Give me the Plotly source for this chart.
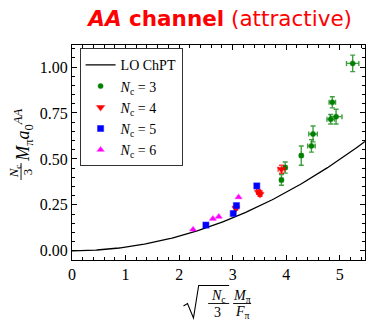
import numpy as np
import plotly.graph_objects as go

# --- data -------------------------------------------------------------
nc3_x = [3.91, 3.98, 4.28, 4.47, 4.50, 4.83, 4.93, 4.86, 5.24]
nc3_y = [0.386, 0.453, 0.518, 0.571, 0.636, 0.716, 0.730, 0.808, 1.02]
nc3_xerr = [0.03, 0.03, 0.03, 0.07, 0.08, 0.07, 0.11, 0.06, 0.115]
nc3_yerr = [0.029, 0.030, 0.052, 0.034, 0.043, 0.026, 0.040, 0.030, 0.045]

nc4_x = [3.06, 3.48, 3.51, 3.91]
nc4_y = [0.232, 0.320, 0.308, 0.444]
nc4_xerr = [0.02, 0.03, 0.03, 0.06]
nc4_yerr = [0.010, 0.012, 0.012, 0.022]

nc5_x = [2.50, 3.01, 3.07, 3.45]
nc5_y = [0.140, 0.203, 0.246, 0.353]

nc6_x = [2.26, 2.63, 2.74, 3.11]
nc6_y = [0.116, 0.174, 0.186, 0.292]

x_ticks = [0, 1, 2, 3, 4, 5]
y_ticks = [0.00, 0.25, 0.50, 0.75, 1.00]
y_ticklabels = ["0.00", "0.25", "0.50", "0.75", "1.00"]

x_range = [0, 5.47]
y_range = [-0.05, 1.12]

# leading-order ChPT: N_c/3 M a = (N_c/3 M^2/F^2) / (16 pi)
lo_coeff = 1.0 / (16.0 * np.pi)
lo_x = np.linspace(x_range[0], x_range[1], 200)
lo_y = lo_coeff * lo_x ** 2

# --- layout geometry (pixels) -------------------------------------------
W, H = 367, 320
L, R, T, B = 71.7, 365.0, 45.0, 260.0
PW, PH = R - L, B - T


def px(x):
    return (x - L) / PW


def py(y):
    return (B - y) / PH


SERIF = "Liberation Serif"

fig = go.Figure()

fig.add_trace(go.Scatter(
    x=lo_x, y=lo_y, mode="lines", name="LO ChPT",
    line=dict(color="black", width=1.3),
))

fig.add_trace(go.Scatter(
    x=nc3_x, y=nc3_y, mode="markers", name="<i>N</i><sub>c</sub> = 3",
    marker=dict(symbol="circle", size=5, color="#008000",
                line=dict(color="rgba(0,128,0,0.45)", width=1.2)),
    error_x=dict(type="data", array=nc3_xerr, color="rgba(0,128,0,0.75)",
                 thickness=1.4, width=2.5),
    error_y=dict(type="data", array=nc3_yerr, color="rgba(0,128,0,0.75)",
                 thickness=1.4, width=2.5),
))

fig.add_trace(go.Scatter(
    x=nc4_x, y=nc4_y, mode="markers", name="<i>N</i><sub>c</sub> = 4",
    marker=dict(symbol="triangle-down", size=7, color="#ff0000",
                line=dict(color="rgba(255,0,0,0.45)", width=1.2)),
    error_x=dict(type="data", array=nc4_xerr, color="rgba(255,0,0,0.75)",
                 thickness=1.4, width=2.5),
    error_y=dict(type="data", array=nc4_yerr, color="rgba(255,0,0,0.75)",
                 thickness=1.4, width=2.5),
))

fig.add_trace(go.Scatter(
    x=nc5_x, y=nc5_y, mode="markers", name="<i>N</i><sub>c</sub> = 5",
    marker=dict(symbol="square", size=6, color="#0000ff",
                line=dict(color="rgba(0,0,255,0.45)", width=1.2)),
))

fig.add_trace(go.Scatter(
    x=nc6_x, y=nc6_y, mode="markers", name="<i>N</i><sub>c</sub> = 6",
    marker=dict(symbol="triangle-up", size=6, color="#ff00ff",
                line=dict(color="rgba(255,0,255,0.45)", width=1.2)),
))

axis_common = dict(
    showline=True, linecolor="black", linewidth=1.2, mirror="allticks",
    ticks="inside", ticklen=5, tickwidth=1, tickcolor="black",
    showgrid=False, zeroline=False,
    tickfont=dict(family=SERIF, size=16, color="black"),
)

fig.update_xaxes(
    range=x_range, tickvals=x_ticks, ticktext=[str(v) for v in x_ticks],
    minor=dict(ticks="inside", ticklen=2.5, dtick=0.2, tickcolor="black", tickwidth=0.8),
    **axis_common,
)
fig.update_yaxes(
    range=y_range, tickvals=y_ticks, ticktext=y_ticklabels,
    minor=dict(ticks="inside", ticklen=2.5, dtick=0.05, tickcolor="black", tickwidth=0.8),
    **axis_common,
)

annotations = []
shapes = []

# y-axis label: (N_c / 3) M_pi a_0^AA, rotated
annotations.append(dict(text="<i>N</i><sub>c</sub>", x=px(14.5), y=py(171.5),
                        textangle=-90, font=dict(family=SERIF, size=13, color="black")))
annotations.append(dict(text="3", x=px(27.5), y=py(171.5),
                        textangle=-90, font=dict(family=SERIF, size=13, color="black")))
shapes.append(dict(type="line", xref="paper", yref="paper",
                   x0=px(20.7), x1=px(20.7), y0=py(163), y1=py(180),
                   line=dict(color="black", width=0.9)))
annotations.append(dict(text="<i>M</i><sub>π</sub><i>a</i><sub>0</sub><sup><i>AA</i></sup>",
                        x=px(23), y=py(135.5), textangle=-90,
                        font=dict(family=SERIF, size=18, color="black")))

# x-axis label: sqrt(N_c / 3) M_pi / F_pi
annotations.append(dict(text="<i>N</i><sub>c</sub>", x=px(218), y=py(296),
                        font=dict(family=SERIF, size=14, color="black")))
annotations.append(dict(text="3", x=px(217), y=py(312),
                        font=dict(family=SERIF, size=14, color="black")))
shapes.append(dict(type="line", xref="paper", yref="paper",
                   x0=px(208), x1=px(229), y0=py(303.5), y1=py(303.5),
                   line=dict(color="black", width=0.9)))
annotations.append(dict(text="<i>M</i><sub>π</sub>", x=px(242), y=py(296),
                        font=dict(family=SERIF, size=14, color="black")))
annotations.append(dict(text="<i>F</i><sub>π</sub>", x=px(242), y=py(312),
                        font=dict(family=SERIF, size=14, color="black")))
shapes.append(dict(type="line", xref="paper", yref="paper",
                   x0=px(233), x1=px(251), y0=py(303.5), y1=py(303.5),
                   line=dict(color="black", width=0.9)))
# radical sign
rad = [(183.3, 306), (187.3, 303.5), (193.3, 318), (198.5, 285.5), (229, 285.5)]
path = "M " + " L ".join(f"{px(a):.5f},{py(b):.5f}" for a, b in rad)
shapes.append(dict(type="path", xref="paper", yref="paper", path=path,
                   line=dict(color="black", width=1.1)))

for a in annotations:
    a.update(xref="paper", yref="paper", showarrow=False,
             xanchor="center", yanchor="middle")

fig.update_layout(
    width=W, height=H, autosize=False,
    margin=dict(l=L, r=W - R, t=T, b=H - B, pad=0),
    plot_bgcolor="white", paper_bgcolor="white",
    title=dict(
        text="<b><i>AA</i> channel</b> (attractive)",
        x=px(220), xref="paper", xanchor="center",
        y=1 - 18 / H, yref="container", yanchor="middle",
        font=dict(family="DejaVu Sans", size=21.5, color="#ff0000"),
    ),
    legend=dict(
        x=px(79.3), y=py(48.3), xanchor="left", yanchor="top",
        bordercolor="#333333", borderwidth=1, bgcolor="white",
        font=dict(family=SERIF, size=14, color="black"),
        tracegroupgap=0, itemwidth=30,
    ),
    annotations=annotations,
    shapes=shapes,
    showlegend=True,
)

fig.write_html("out.html")
